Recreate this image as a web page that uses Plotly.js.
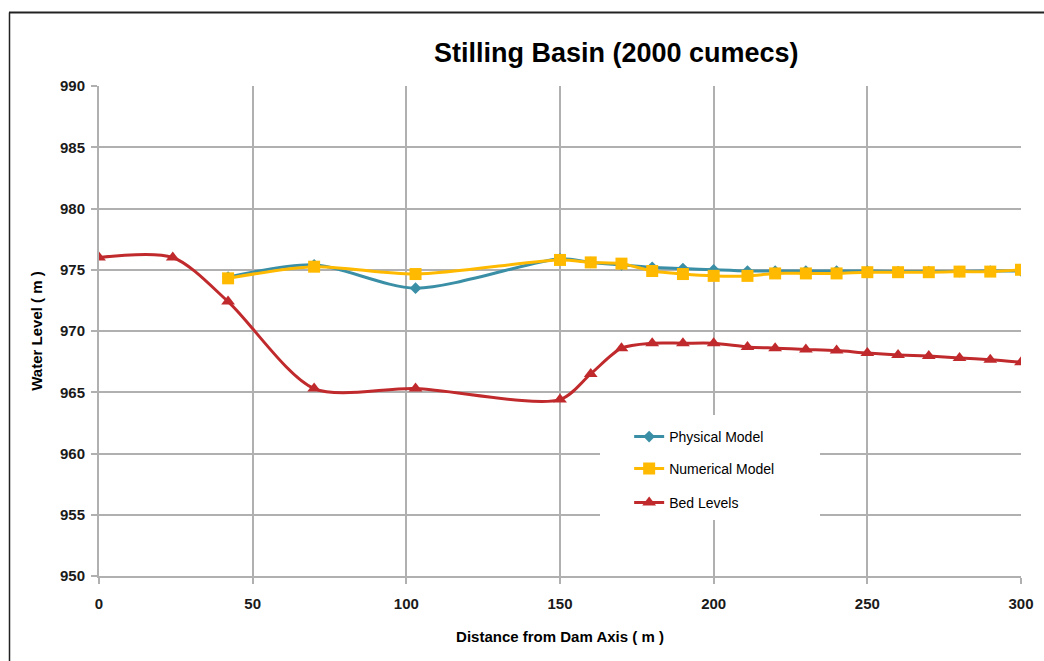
<!DOCTYPE html>
<html>
<head>
<meta charset="utf-8">
<script src="https://cdn.plot.ly/plotly-3.0.1.min.js"></script>
<style>html,body{margin:0;padding:0;background:#fff;}#chart{width:1044px;height:661px;}</style>
</head>
<body>
<div id="chart"></div>
<script>
const physX = [42, 70, 103, 150, 160, 170, 180, 190, 200, 211, 220, 230, 240, 250, 260, 270, 280, 290, 300];
const physY = [974.4, 975.4, 973.5, 975.9, 975.6, 975.4, 975.2, 975.1, 975.0, 974.9, 974.9, 974.9, 974.9, 974.9, 974.85, 974.85, 974.85, 974.9, 974.9];
const numX = [42, 70, 103, 150, 160, 170, 180, 190, 200, 211, 220, 230, 240, 250, 260, 270, 280, 290, 300];
const numY = [974.3, 975.25, 974.65, 975.8, 975.6, 975.5, 974.9, 974.65, 974.5, 974.5, 974.7, 974.7, 974.7, 974.8, 974.8, 974.8, 974.85, 974.85, 975.0];
const bedX = [0, 24, 42, 70, 103, 150, 160, 170, 180, 190, 200, 211, 220, 230, 240, 250, 260, 270, 280, 290, 300];
const bedY = [976.0, 976.0, 972.4, 965.3, 965.3, 964.4, 966.5, 968.6, 969.0, 969.0, 969.0, 968.7, 968.6, 968.5, 968.4, 968.2, 968.05, 967.95, 967.8, 967.65, 967.45];
const seriesNames = ["Physical Model", "Numerical Model", "Bed Levels"];
const xTicks = [0, 50, 100, 150, 200, 250, 300];
const yTicks = [950, 955, 960, 965, 970, 975, 980, 985, 990];

const narrow = "Liberation Sans Narrow, Arial Narrow, Liberation Sans, Arial, sans-serif";
const sans = "Liberation Sans, Arial, sans-serif";

const traces = [
  {x: physX, y: physY, name: seriesNames[0], type: "scatter", mode: "lines+markers", legend: "legend",
   line: {color: "#3A8FA6", width: 3, shape: "spline", smoothing: 0.8},
   marker: {symbol: "diamond", size: 9, color: "#3A8FA6"}},
  {x: numX, y: numY, name: seriesNames[1], type: "scatter", mode: "lines+markers", legend: "legend2",
   line: {color: "#FFBA00", width: 3, shape: "spline", smoothing: 0.8},
   marker: {symbol: "square", size: 12, color: "#FFBA00"}},
  {x: bedX, y: bedY, name: seriesNames[2], type: "scatter", mode: "lines+markers", legend: "legend3",
   line: {color: "#C02A2C", width: 3, shape: "spline", smoothing: 0.8},
   marker: {symbol: "triangle-up", size: 12, color: "#C02A2C"}}
];

function leg(yc) {
  return {x: 0.575, y: yc, xanchor: "left", yanchor: "middle", bgcolor: "rgba(255,255,255,0)",
          font: {family: sans, size: 14, color: "#000"}, itemwidth: 30};
}

const layout = {
  width: 1044, height: 661,
  margin: {l: 99, r: 23, t: 86, b: 85},
  paper_bgcolor: "#fff", plot_bgcolor: "#fff",
  showlegend: true,
  title: {text: "<b>Stilling Basin (2000 cumecs)</b>", font: {family: sans, size: 27, color: "#000"},
          x: 0.561, xref: "paper", xanchor: "center", y: 0.921, yref: "container", yanchor: "middle"},
  xaxis: {range: [0, 300], tickvals: xTicks, ticktext: xTicks.map(v => "<b>" + v + "</b>"),
          showgrid: true, gridcolor: "#b0b0b0", gridwidth: 2, zeroline: false,
          showline: true, linecolor: "#b0b0b0", linewidth: 2,
          ticks: "outside", ticklen: 6, tickcolor: "#b0b0b0", tickwidth: 2, ticklabelstandoff: 7,
          tickfont: {family: narrow, size: 15, color: "#1a1a1a"},
          title: {text: "<b>Distance from Dam Axis ( m )</b>", font: {family: narrow, size: 15, color: "#000"}, standoff: 20},
          fixedrange: true},
  yaxis: {range: [950, 990], tickvals: yTicks, ticktext: yTicks.map(v => "<b>" + v + "</b>"),
          showgrid: true, gridcolor: "#b0b0b0", gridwidth: 2, zeroline: false,
          showline: true, linecolor: "#b0b0b0", linewidth: 2,
          ticks: "outside", ticklen: 6, tickcolor: "#b0b0b0", tickwidth: 2, ticklabelstandoff: 3,
          tickfont: {family: narrow, size: 15, color: "#1a1a1a"},
          title: {text: "<b>Water Level ( m )</b>", font: {family: narrow, size: 15, color: "#000"}, standoff: 14},
          fixedrange: true},
  legend: leg((576-437)/490),
  legend2: leg((576-469)/490),
  legend3: leg((576-503)/490),
  shapes: [
    {type: "rect", xref: "paper", yref: "paper", x0: (600-99)/922, x1: (820-99)/922,
     y0: (576-520)/490, y1: (576-415)/490, fillcolor: "#fff", line: {width: 0}, layer: "above"},
    {type: "line", xref: "paper", yref: "paper", x0: (9-99)/922, x1: (1044-99)/922,
     y0: (576-12.5)/490, y1: (576-12.5)/490, line: {color: "#222", width: 2}},
    {type: "line", xref: "paper", yref: "paper", x0: (9.5-99)/922, x1: (9.5-99)/922,
     y0: (576-12.5)/490, y1: (576-665)/490, line: {color: "#222", width: 1.5}}
  ]
};

Plotly.newPlot("chart", traces, layout, {displayModeBar: false, staticPlot: true});
</script>
</body>
</html>
